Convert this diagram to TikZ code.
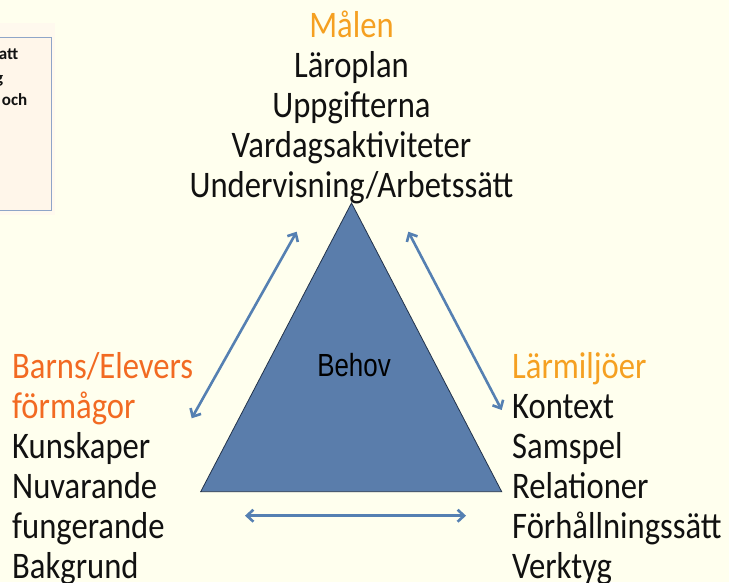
\documentclass[tikz,border=0pt]{standalone}
\usepackage{fontspec}
\setmainfont{Carlito}
\newfontfamily\behovfont{Liberation Sans}
\usetikzlibrary{arrows.meta}
\definecolor{bgcol}{HTML}{FFFFEE}
\definecolor{boxouter}{HTML}{FFF9EE}
\definecolor{boxfill}{HTML}{FFF6EA}
\definecolor{boxline}{HTML}{8FA5C8}
\definecolor{trifill}{HTML}{5A7DAB}
\definecolor{triline}{HTML}{22324A}
\definecolor{arrcol}{HTML}{5580B2}
\definecolor{amber}{HTML}{F5A021}
\definecolor{redorange}{HTML}{F26A22}
\definecolor{txt}{HTML}{111111}
\newcommand{\sqz}[1]{\scalebox{0.87}[1]{#1}}
\tikzset{
  lbl/.style={inner sep=0pt, font=\fontsize{37.5}{40}\selectfont, text=txt},
  head/.style={lbl, text=amber},
  headred/.style={lbl, text=redorange},
  boxtxt/.style={inner sep=0pt, font=\fontsize{17}{20}\selectfont\bfseries, text=txt, anchor=base east},
  link/.style={draw=arrcol, line width=2.6pt, {Straight Barb[length=6.5pt,width=12pt]}-{Straight Barb[length=6.5pt,width=12pt]}},
}
\begin{document}
\begin{tikzpicture}[x=1pt,y=-1pt]
\fill[bgcol] (0,0) rectangle (729,582);
\useasboundingbox (0,0) rectangle (729,582);
\begin{scope}
\clip (0,0) rectangle (729,582);
% partially visible box at the top left
\fill[boxouter] (-2,23) rectangle (55,215);
\draw[boxline, fill=boxfill, line width=1pt] (-5,37) rectangle (51,210);
\node[boxtxt] (b1) at (18.5,59) {att};
\node[boxtxt] (b2) at (3.5,83) {g};
\node[boxtxt] (b3) at (27.5,105) {och};
% triangle
\coordinate (apex) at (351.5,203);
\coordinate (bl) at (200.7,491.7);
\coordinate (br) at (501.7,491.7);
\draw[triline, fill=trifill, line width=0.8pt] (apex) -- (br) -- (bl) -- cycle;
\node[inner sep=0pt, text=black, anchor=base] (behov) at (354,376.7) {\behovfont\fontsize{32}{34}\selectfont\scalebox{0.81}[1]{Behov}};
% arrows
\coordinate (la) at (191.7,418.3);
\coordinate (lb) at (296.7,231.7);
\coordinate (ra) at (408.3,231.7);
\coordinate (rb) at (501.7,410);
\coordinate (ba) at (245,515.7);
\coordinate (bb) at (466,515.7);
\draw[link] (la) -- (lb);
\draw[link] (ra) -- (rb);
\draw[link] (ba) -- (bb);
% top texts
\node[head, anchor=base] (t0) at (351.5,37) {\sqz{Målen}};
\node[lbl, anchor=base] (t1) at (351.5,77) {\sqz{Läroplan}};
\node[lbl, anchor=base] (t2) at (351.5,117) {\sqz{Uppgifterna}};
\node[lbl, anchor=base] (t3) at (351.5,157) {\sqz{Vardagsaktiviteter}};
\node[lbl, anchor=base] (t4) at (351.5,197) {\sqz{Undervisning/Arbetssätt}};
% left texts
\node[headred, anchor=base west] (l0) at (12,378) {\sqz{Barns/Elevers}};
\node[headred, anchor=base west] (l1) at (12,418) {\sqz{förmågor}};
\node[lbl, anchor=base west] (l2) at (12,458) {\sqz{Kunskaper}};
\node[lbl, anchor=base west] (l3) at (12,498) {\sqz{Nuvarande}};
\node[lbl, anchor=base west] (l4) at (12,538) {\sqz{fungerande}};
\node[lbl, anchor=base west] (l5) at (12,578) {\sqz{Bakgrund}};
% right texts
\node[head, anchor=base west] (r0) at (512,378) {\sqz{Lärmiljöer}};
\node[lbl, anchor=base west] (r1) at (512,418) {\sqz{Kontext}};
\node[lbl, anchor=base west] (r2) at (512,458) {\sqz{Samspel}};
\node[lbl, anchor=base west] (r3) at (512,498) {\sqz{Relationer}};
\node[lbl, anchor=base west] (r4) at (512,538) {\sqz{Förhållningssätt}};
\node[lbl, anchor=base west] (r5) at (512,578) {\sqz{Verktyg}};
\end{scope}
\end{tikzpicture}
\end{document}
